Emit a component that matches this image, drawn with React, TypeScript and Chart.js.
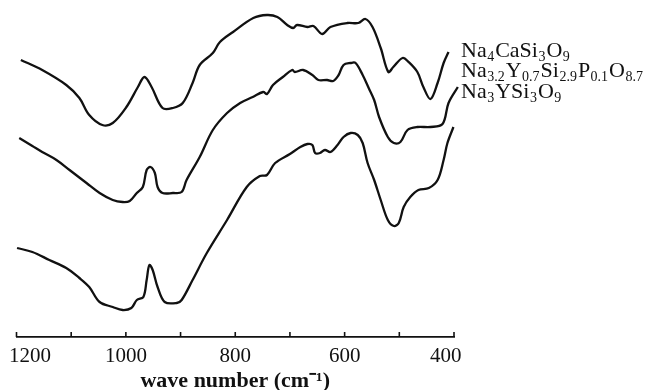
import React, { useEffect, useRef } from 'react';
import { Chart, registerables } from 'chart.js';

Chart.register(...registerables);

// Na4CaSi3O9 (top trace)
const wnCa = [1192, 1153, 1109, 1085, 1067, 1043, 1024, 999, 978, 966, 953, 933, 914, 896, 878, 865, 841, 828, 804, 767, 742, 723, 705, 694, 687, 668, 657, 641, 626, 595, 575, 562, 549, 534, 520, 511, 494, 483, 467, 456, 443, 430, 419, 410];
const tCa = [277, 267, 252, 239, 222, 212, 214, 230, 250, 260, 250, 229, 229, 234, 254, 272, 284, 295, 305, 319, 322, 320, 312, 309, 312, 310, 311, 303, 310, 314, 314, 318, 310, 289, 265, 270, 279, 275, 265, 250, 238, 254, 274, 285];

// Na3.2Y0.7Si2.9P0.1O8.7 (middle trace)
const wnYP = [1195, 1171, 1153, 1127, 1103, 1072, 1048, 1024, 1006, 993, 980, 969, 962, 955, 947, 942, 933, 914, 898, 889, 865, 841, 815, 791, 768, 749, 742, 731, 713, 696, 691, 676, 659, 648, 632, 621, 611, 602, 589, 580, 567, 556, 546, 537, 521, 510, 498, 485, 467, 443, 421, 410, 393];
const tYP = [199, 191, 185, 177, 167, 154, 144, 137, 135, 136, 144, 150, 167, 170, 164, 150, 144, 144, 145, 157, 180, 207, 224, 234, 240, 245, 243, 252, 260, 267, 265, 267, 262, 257, 257, 256, 262, 272, 274, 274, 262, 249, 237, 220, 200, 194, 195, 207, 210, 210, 213, 234, 250];

// Na3YSi3O9 (bottom trace)
const wnY = [1199, 1171, 1140, 1109, 1085, 1067, 1048, 1024, 1006, 990, 980, 968, 962, 957, 951, 942, 929, 907, 898, 878, 852, 815, 779, 755, 742, 727, 700, 681, 668, 659, 654, 645, 636, 626, 613, 602, 589, 576, 567, 558, 546, 534, 521, 510, 501, 492, 480, 465, 446, 430, 419, 412, 401];
const tY = [89, 85, 77, 69, 59, 50, 35, 30, 27, 29, 37, 40, 57, 72, 67, 50, 35, 34, 37, 57, 84, 117, 150, 161, 162, 174, 183, 190, 193, 192, 184, 184, 187, 185, 192, 200, 204, 202, 194, 174, 157, 137, 117, 111, 114, 130, 140, 147, 149, 157, 177, 194, 210];

const seriesNames = ['Na_{4}CaSi_{3}O_{9}', 'Na_{3.2}Y_{0.7}Si_{2.9}P_{0.1}O_{8.7}', 'Na_{3}YSi_{3}O_{9}'];
const labeledTicks = [1200, 1000, 800, 600, 400];
const xTitle = 'wave number (cm\u207B\u00B9)';

const toPoints = (xs: number[], ys: number[]) => xs.map((x, i) => ({ x, y: ys[i] }));

const serif = '"Liberation Serif", "Times New Roman", serif';

const axisMarksPlugin = {
  id: 'axisMarks',
  afterDraw(chart: any, _a: any, opts: any) {
    const sx = chart.scales.x;
    const ctx = chart.ctx;
    const bottom = chart.chartArea.bottom;
    ctx.save();
    ctx.strokeStyle = '#111';
    ctx.fillStyle = '#111';
    ctx.lineWidth = 1.6;
    const vals: number[] = sx.ticks.map((t: any) => t.value);
    const lo = Math.min(...vals);
    const hi = Math.max(...vals);
    vals.forEach((v) => {
      const px = sx.getPixelForValue(v);
      ctx.beginPath();
      ctx.moveTo(px, bottom);
      ctx.lineTo(px, bottom - opts.tickLen);
      ctx.stroke();
      if (labeledTicks.includes(v)) {
        ctx.font = `${opts.size}px ${serif}`;
        ctx.textBaseline = 'top';
        let x = px;
        if (v === hi) { ctx.textAlign = 'left'; x = px - opts.edgeInset; }
        else if (v === lo) { ctx.textAlign = 'right'; x = px + opts.edgeInset; }
        else ctx.textAlign = 'center';
        ctx.fillText(String(v), x, bottom + opts.pad);
      }
    });
    ctx.restore();
  },
};

const seriesLabelPlugin = {
  id: 'seriesLabels',
  afterDraw(chart: any, _args: any, opts: any) {
    const ctx = chart.ctx;
    const x0 = chart.chartArea.right + opts.dx;
    ctx.save();
    ctx.fillStyle = '#111';
    ctx.textBaseline = 'alphabetic';
    ctx.textAlign = 'left';
    seriesNames.forEach((name, i) => {
      const base = chart.chartArea.top + opts.baselines[i];
      let x = x0;
      const parts = name.split(/(_\{[^}]*\})/).filter((p) => p.length);
      parts.forEach((p) => {
        if (p.startsWith('_{')) {
          const s = p.slice(2, -1);
          ctx.font = `${opts.subSize}px ${serif}`;
          ctx.fillText(s, x + 0.5, base + opts.subShift);
          x += ctx.measureText(s).width + 1.5;
        } else {
          ctx.font = `${opts.size}px ${serif}`;
          ctx.fillText(p, x, base);
          x += ctx.measureText(p).width;
        }
      });
    });
    ctx.restore();
  },
};

export default function App() {
  const ref = useRef<HTMLCanvasElement | null>(null);
  useEffect(() => {
    if (!ref.current) return;
    const lineStyle = {
      borderColor: '#111',
      borderWidth: 2.3,
      pointRadius: 0,
      tension: 0.35,
      fill: false,
      clip: false as any,
    };
    const chart = new Chart(ref.current, {
      type: 'line',
      data: {
        datasets: [
          { label: 'Na4CaSi3O9', data: toPoints(wnCa, tCa), ...lineStyle },
          { label: 'Na3.2Y0.7Si2.9P0.1O8.7', data: toPoints(wnYP, tYP), ...lineStyle },
          { label: 'Na3YSi3O9', data: toPoints(wnY, tY), ...lineStyle },
        ],
      },
      options: {
        animation: false,
        responsive: false,
        maintainAspectRatio: false,
        layout: { padding: { left: 16.5, right: 193, top: 5, bottom: 0 } },
        plugins: {
          legend: { display: false },
          tooltip: { enabled: false },
          seriesLabels: { dx: 7, baselines: [51.5, 72, 93], size: 22, subSize: 14, subShift: 4 },
          axisMarks: { tickLen: 5, size: 21, pad: 9, edgeInset: 7.5 },
        } as any,
        scales: {
          x: {
            type: 'linear',
            reverse: true,
            min: 400,
            max: 1200,
            afterFit: (s: any) => { s.height = 53; },
            border: { display: true, color: '#111', width: 1.8 },
            grid: { display: true, drawOnChartArea: false, drawTicks: false, color: 'rgba(0,0,0,0)' },
            ticks: {
              stepSize: 100,
              autoSkip: false,
              maxRotation: 0,
              display: false,
            },
            title: {
              display: true,
              text: xTitle,
              color: '#111',
              font: { family: serif, size: 22, weight: 'bold', lineHeight: 0.75 },
              padding: { top: 0, bottom: 0 },
            },
          },
          y: {
            type: 'linear',
            display: false,
            min: 0,
            max: 332,
          },
        },
      },
      plugins: [axisMarksPlugin, seriesLabelPlugin],
    });
    return () => chart.destroy();
  }, []);
  return (
    <div style={{ position: 'fixed', left: 0, top: 0, width: 647, height: 390, background: '#fff' }}>
      <canvas ref={ref} width={647} height={390} style={{ width: 647, height: 390, display: 'block' }} />
    </div>
  );
}
